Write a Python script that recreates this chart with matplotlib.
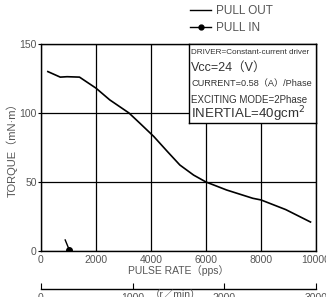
import matplotlib
matplotlib.use("Agg")
import matplotlib.pyplot as plt
from matplotlib.lines import Line2D

# ---- data ----
pull_out_pps = [250, 700, 950, 1400, 2000, 2500, 3200, 3600, 4100, 4600, 5050, 5550, 6000, 6750, 7700, 8000, 8900, 9800]
pull_out_torque = [130, 126, 126.3, 126, 118, 109.5, 100, 92.5, 83, 72, 62.3, 55, 50, 44.2, 38.2, 37, 30, 21]
pull_in_pps = [880, 1030]
pull_in_torque = [8, 0.7]
x_ticks = [0, 2000, 4000, 6000, 8000, 10000]
y_ticks = [0, 50, 100, 150]
rpm_ticks = [0, 1000, 2000, 3000]
info_lines = ["DRIVER=Constant-current driver", "Vcc=24\uff08V\uff09", "CURRENT=0.58\uff08A\uff09/Phase",
              "EXCITING MODE=2Phase", "INERTIAL=40gcm$^2$"]

plt.rcParams['font.family'] = ['Liberation Sans', 'Noto Sans CJK JP', 'DejaVu Sans']
W, H = 326, 297
fig = plt.figure(figsize=(W / 100, H / 100), dpi=100)
grey = '#555555'

ax = fig.add_axes([41 / W, (H - 251) / H, 275 / W, 207 / H])
ax.set_xlim(0, 10000)
ax.set_ylim(0, 150)
ax.set_xticks(x_ticks)
ax.set_yticks(y_ticks)
ax.grid(True, color='black', lw=0.9)
for s in ax.spines.values():
    s.set_color('black')
    s.set_linewidth(1.0)
ax.tick_params(axis='x', length=0, pad=3, labelsize=7.5, labelcolor=grey)
ax.tick_params(axis='y', length=2, pad=1, labelsize=7.5, labelcolor=grey)
ax.set_xlabel('PULSE RATE\uff08pps\uff09', fontsize=7.5, color=grey, labelpad=0)
ax.set_ylabel('TORQUE\uff08mN\u00b7m\uff09', fontsize=8, color=grey, labelpad=1)

ax.plot(pull_out_pps, pull_out_torque, color='black', lw=1.2, label='PULL OUT')
ax.plot(pull_in_pps, pull_in_torque, color='black', lw=1.0, marker='o', ms=4, markevery=[1], label='PULL IN')

# info box
ax2box = fig.add_axes([189 / W, (H - 123) / H, 127 / W, 79 / H])
ax2box.set_xticks([]); ax2box.set_yticks([])
ax2box.set_facecolor('white')
for s in ax2box.spines.values():
    s.set_color('black'); s.set_linewidth(1.0)
ys = [53, 68, 84, 100, 114]
sizes = [5.9, 9, 6.6, 7, 9.5]
for t, yy, sz in zip(info_lines, ys, sizes):
    ax2box.text(2 / 127, 1 - (yy - 44) / 79, t, transform=ax2box.transAxes, fontsize=sz,
                color='#333333', va='center', ha='left')

# secondary rpm axis
axr = fig.add_axes([41 / W, (H - 289) / H, 275 / W, 0.001])
axr.set_xlim(0, 3000)
axr.set_ylim(0, 1)
axr.set_xticks(rpm_ticks)
axr.set_yticks([])
for k in ['top', 'left', 'right']:
    axr.spines[k].set_visible(False)
axr.spines['bottom'].set_linewidth(1.0)
axr.tick_params(axis='x', direction='in', length=4, labelsize=7.5, labelcolor=grey, pad=3)
axr.text(0.49, -2.5, '\uff08r\uff0fmin\uff09', transform=axr.transAxes, fontsize=7.5, color=grey, ha='center', va='top')

# legend
handles = [Line2D([], [], color='black', lw=1.0),
           Line2D([], [], color='black', lw=1.0, marker='o', ms=3.5)]
fig.legend(handles, ['PULL OUT', 'PULL IN'], loc='upper left', bbox_to_anchor=(183 / W, 1 + 2 / H),
           frameon=False, fontsize=8.5, labelcolor=grey, handlelength=1.8, handletextpad=0.4,
           labelspacing=0.4, borderpad=0.1)

fig.savefig('out.png', dpi=100)
